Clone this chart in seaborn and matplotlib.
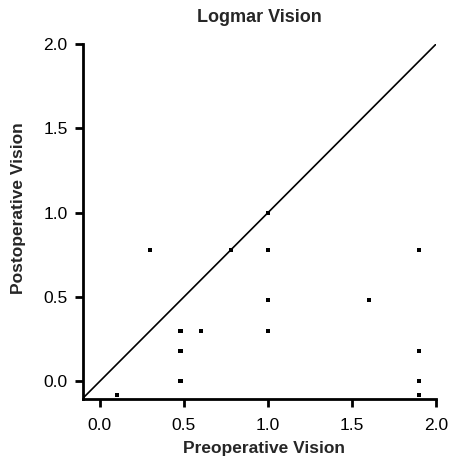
import matplotlib
matplotlib.use("Agg")
import matplotlib.pyplot as plt
import seaborn as sns
import pandas as pd

# logMAR values
preop = [0.30, 0.78, 1.00, 1.00, 1.90, 1.00, 1.60, 0.48, 0.60, 1.00,
         0.48, 0.48, 0.10, 1.90, 1.90, 1.90]
postop = [0.78, 0.78, 1.00, 0.78, 0.78, 0.48, 0.48, 0.30, 0.30, 0.30,
          0.18, 0.00, -0.08, 0.18, 0.00, -0.08]
ticks = [0.0, 0.5, 1.0, 1.5, 2.0]

df = pd.DataFrame({"Preoperative Vision": preop, "Postoperative Vision": postop})

sns.set_style("ticks")
plt.rcParams["font.family"] = ["Liberation Sans", "DejaVu Sans"]

fig = plt.figure(figsize=(4.51, 4.61), dpi=100)
ax = fig.add_axes([0.184, 0.1345, 0.783, 0.770])

ax.axline((0, 0), slope=1, color="black", lw=1.2, zorder=1)
sns.scatterplot(data=df, x="Preoperative Vision", y="Postoperative Vision",
                marker="s", s=9, color="black", edgecolor="none",
                ax=ax, zorder=2, clip_on=False)

ax.set_xlim(-0.1, 2.0)
ax.set_ylim(-0.105, 2.0)
ax.set_xticks(ticks)
ax.set_yticks(ticks)
ax.set_xticklabels([f"{t:.1f}" for t in ticks])
ax.set_yticklabels([f"{t:.1f}" for t in ticks])
ax.tick_params(axis="both", direction="out", length=6, width=2,
               labelsize=12.5, color="black", labelcolor="black")
ax.tick_params(axis="x", pad=8)
ax.tick_params(axis="y", pad=5)

for side in ["top", "right"]:
    ax.spines[side].set_visible(False)
for side in ["left", "bottom"]:
    ax.spines[side].set_linewidth(2)
    ax.spines[side].set_color("black")

ax.set_title("Logmar Vision", fontsize=13, fontweight="bold", pad=16)
ax.set_xlabel("Preoperative Vision", fontsize=12.5, fontweight="bold")
ax.set_ylabel("Postoperative Vision", fontsize=12.5, fontweight="bold")
ax.xaxis.set_label_coords(0.513, -0.118)
ax.yaxis.set_label_coords(-0.161, 0.537)

fig.savefig("out.png", dpi=100)
plt.close(fig)
